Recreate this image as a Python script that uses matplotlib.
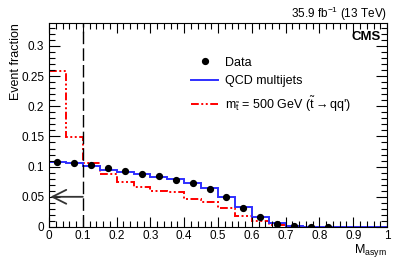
import numpy as np
import matplotlib
matplotlib.use("Agg")
import matplotlib.pyplot as plt
from matplotlib.lines import Line2D
from matplotlib.ticker import MultipleLocator

plt.rcParams['font.family'] = ['Liberation Sans', 'DejaVu Sans']
plt.rcParams['mathtext.fontset'] = 'custom'
plt.rcParams['mathtext.rm'] = 'Liberation Sans'
plt.rcParams['mathtext.it'] = 'Liberation Sans'

edges = np.round(np.arange(0, 1.0001, 0.05), 3)
qcd = [0.107, 0.1055, 0.1005, 0.095, 0.0907, 0.088, 0.0824, 0.079, 0.0736, 0.0643,
       0.050, 0.033, 0.0165, 0.0066, 0.002, 0.0005, 0.0002, 0.0001, 0.0, 0.0]
signal = [0.259, 0.149, 0.106, 0.088, 0.074, 0.067, 0.059, 0.058, 0.046, 0.042,
          0.031, 0.018, 0.0093, 0.003, 0.0005, 0.0001, 0.0, 0.0, 0.0, 0.0]
data = [0.108, 0.1055, 0.102, 0.097, 0.093, 0.088, 0.084, 0.0785, 0.073, 0.063,
        0.0495, 0.032, 0.016, 0.0055, 0.0016, 0.0003, 0.0001]
data_err = [0.0008] * len(data)
cut = 0.1

centers = (edges[:-1] + edges[1:]) / 2

fig = plt.figure(figsize=(4.07, 2.58), dpi=100)
ax = fig.add_axes([0.1204, 0.1202, 0.951 - 0.1204, 0.911 - 0.1202])

sig_ls = (0, (4, 1.3, 1, 1.3, 1, 1.3))
ax.stairs(signal, edges, color='red', lw=1.4, ls=sig_ls, baseline=None)
ax.stairs(qcd, edges, color='#2f2fff', lw=1.4, baseline=None)
ax.errorbar(centers[:len(data)], data, yerr=data_err, fmt='o', color='black', ms=4.2, lw=1)

ax.axvline(cut, color='black', lw=1.0, ls=(0, (9, 3)))
ax.annotate('', xy=(0.004, 0.05), xytext=(cut, 0.05),
            arrowprops=dict(arrowstyle='->,head_length=1.0,head_width=0.5', color='#333333', lw=1.3,
                            shrinkA=0, shrinkB=0))

ax.set_xlim(0, 1)
ax.set_ylim(0, 0.338)
ax.xaxis.set_major_locator(MultipleLocator(0.1))
ax.xaxis.set_minor_locator(MultipleLocator(0.02))
ax.yaxis.set_major_locator(MultipleLocator(0.05))
ax.yaxis.set_minor_locator(MultipleLocator(0.01))
ax.tick_params(which='both', direction='in', top=True, right=True, labelsize=8.5, width=0.8)
ax.tick_params(which='major', length=8)
ax.tick_params(which='major', axis='x', length=7)
ax.tick_params(which='minor', length=4)
ax.tick_params(axis='x', pad=2.5)
ax.xaxis.set_major_formatter(matplotlib.ticker.FuncFormatter(lambda v, p: f"{v:g}"))
ax.yaxis.set_major_formatter(matplotlib.ticker.FuncFormatter(lambda v, p: f"{v:g}"))
for s in ax.spines.values():
    s.set_linewidth(0.8)

ax.set_ylabel('Event fraction', fontsize=9, ha='right', y=1.0)
ax.yaxis.set_label_coords(-0.08, 1.0)
ax.set_xlabel('M$_{\\mathrm{asym}}$', fontsize=9, ha='right', x=1.0)
ax.xaxis.set_label_coords(1.0, -0.075)

handles = [
    Line2D([], [], marker='o', color='black', ms=4.2, lw=1, ls='none'),
    Line2D([], [], color='#2f2fff', lw=1.4),
    Line2D([], [], color='red', lw=1.4, ls=sig_ls),
]
labels = ['Data', 'QCD multijets', 'm$_{\\tilde{\\mathrm{t}}}$ = 500 GeV ($\\tilde{\\mathrm{t}}$$\\rightarrow$qq\')']
leg = ax.legend(handles, labels, loc='upper left', bbox_to_anchor=(0.405, 0.86), frameon=False,
                fontsize=9, handlelength=2.2, handletextpad=0.55, labelspacing=0.55, borderaxespad=0)

ax.text(0.98, 0.93, 'CMS', transform=ax.transAxes, ha='right', va='center', fontsize=9.5, fontweight='bold')
fig.text(0.951, 0.945, '35.9 fb$^{-1}$ (13 TeV)', ha='right', va='center', fontsize=8.5)

fig.savefig('out.png', dpi=100)
